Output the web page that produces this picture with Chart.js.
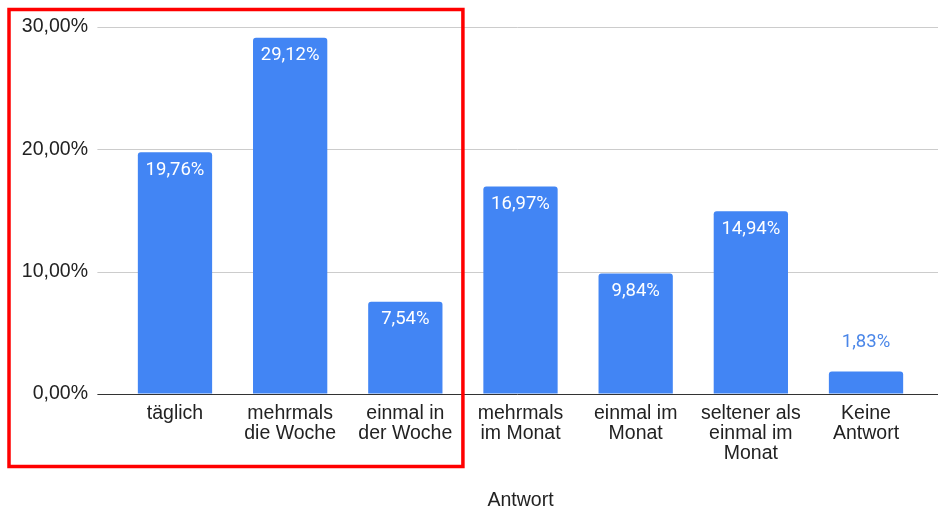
<!DOCTYPE html>
<html>
<head>
<meta charset="utf-8">
<script src="https://cdn.jsdelivr.net/npm/chart.js@4/dist/chart.umd.min.js"></script>
<style>
html,body{margin:0;padding:0;background:#fff;}
#wrap{width:938px;height:510px;position:relative;}
</style>
</head>
<body>
<div id="wrap"><canvas id="c" width="938" height="510"></canvas></div>
<script>
const categories = [
  ['täglich'],
  ['mehrmals', 'die Woche'],
  ['einmal in', 'der Woche'],
  ['mehrmals', 'im Monat'],
  ['einmal im', 'Monat'],
  ['seltener als', 'einmal im', 'Monat'],
  ['Keine', 'Antwort']
];
const values = [19.76, 29.12, 7.54, 16.97, 9.84, 14.94, 1.83];
const yTickValues = [0, 10, 20, 30];
const axisTitle = 'Antwort';
const highlightCount = 3;

const fmt = v => v.toFixed(2).replace('.', ',') + '%';
const BLUE = '#4285F4';

function hline(ctx, x1, x2, y, color) {
  ctx.strokeStyle = color;
  ctx.lineWidth = 1;
  ctx.beginPath();
  ctx.moveTo(x1, y);
  ctx.lineTo(x2, y);
  ctx.stroke();
}

const gridPlugin = {
  id: 'gridPlugin',
  beforeDatasetsDraw(chart) {
    const {ctx, chartArea, scales} = chart;
    const y = scales.y;
    ctx.save();
    y.ticks.forEach(t => {
      if (t.value === 0) return;
      const py = Math.round(y.getPixelForValue(t.value)) + 0.5;
      hline(ctx, chartArea.left - 20, chart.width, py, '#cccccc');
    });
    ctx.restore();
  },
  afterDatasetsDraw(chart) {
    const {ctx, chartArea, scales} = chart;
    const py = Math.round(scales.y.getPixelForValue(0)) + 0.5;
    ctx.save();
    hline(ctx, chartArea.left - 20, chart.width, py, '#333333');
    ctx.restore();
  }
};

const valueLabels = {
  id: 'valueLabels',
  afterDatasetsDraw(chart) {
    const {ctx} = chart;
    const meta = chart.getDatasetMeta(0);
    ctx.save();
    ctx.font = '18.5px Roboto, "Noto Sans", sans-serif';
    ctx.textAlign = 'center';
    ctx.textBaseline = 'middle';
    meta.data.forEach((el, i) => {
      const v = values[i];
      const h = el.base - el.y;
      if (h > 40) {
        ctx.fillStyle = '#ffffff';
        ctx.fillText(fmt(v), el.x, el.y + 18);
      } else {
        ctx.fillStyle = '#4a86e8';
        ctx.fillText(fmt(v), el.x, el.y - 29);
      }
    });
    ctx.restore();
  }
};

const highlightBox = {
  id: 'highlightBox',
  afterDraw(chart) {
    const {ctx, scales} = chart;
    const x = scales.x;
    const half = (x.getPixelForValue(1) - x.getPixelForValue(0)) / 2;
    const right = x.getPixelForValue(highlightCount - 1) + half;
    ctx.save();
    ctx.strokeStyle = '#ff0000';
    ctx.lineWidth = 3.5;
    ctx.strokeRect(9, 9.5, right - 9, 457);
    ctx.restore();
  }
};

new Chart(document.getElementById('c'), {
  type: 'bar',
  data: {
    labels: categories,
    datasets: [{
      data: values,
      backgroundColor: BLUE,
      borderWidth: 0,
      borderRadius: {topLeft: 3, topRight: 3, bottomLeft: 0, bottomRight: 0},
      borderSkipped: false,
      barPercentage: 1,
      categoryPercentage: 0.645
    }]
  },
  options: {
    responsive: false,
    animation: false,
    devicePixelRatio: 1,
    layout: {padding: {left: 0, right: 14.4, top: 27, bottom: 0}},
    plugins: {legend: {display: false}, tooltip: {enabled: false}},
    scales: {
      x: {
        grid: {display: false, drawTicks: false},
        border: {display: false},
        ticks: {
          color: '#222222',
          font: {family: '"Liberation Sans", Arial, sans-serif', size: 19.5, lineHeight: 1.02},
          padding: 10,
          maxRotation: 0,
          autoSkip: false
        },
        title: {
          display: true,
          text: axisTitle,
          color: '#222222',
          font: {family: '"Liberation Sans", Arial, sans-serif', size: 19.5, lineHeight: 1},
          padding: 0
        },
        afterFit(s) { s.height = 116; }
      },
      y: {
        min: 0, max: 30,
        border: {display: false},
        grid: {
          color: 'rgba(0,0,0,0)',
          tickColor: 'rgba(0,0,0,0)',
          tickLength: 20,
          drawTicks: true
        },
        afterBuildTicks(s) { s.ticks = yTickValues.map(v => ({value: v})); },
        ticks: {
          color: '#222222',
          font: {family: '"Liberation Sans", Arial, sans-serif', size: 19.5},
          padding: 9.4,
          callback: v => fmt(v)
        },
        afterFit(s) { s.width = 117.4; }
      }
    }
  },
  plugins: [gridPlugin, valueLabels, highlightBox]
});
</script>
</body>
</html>
